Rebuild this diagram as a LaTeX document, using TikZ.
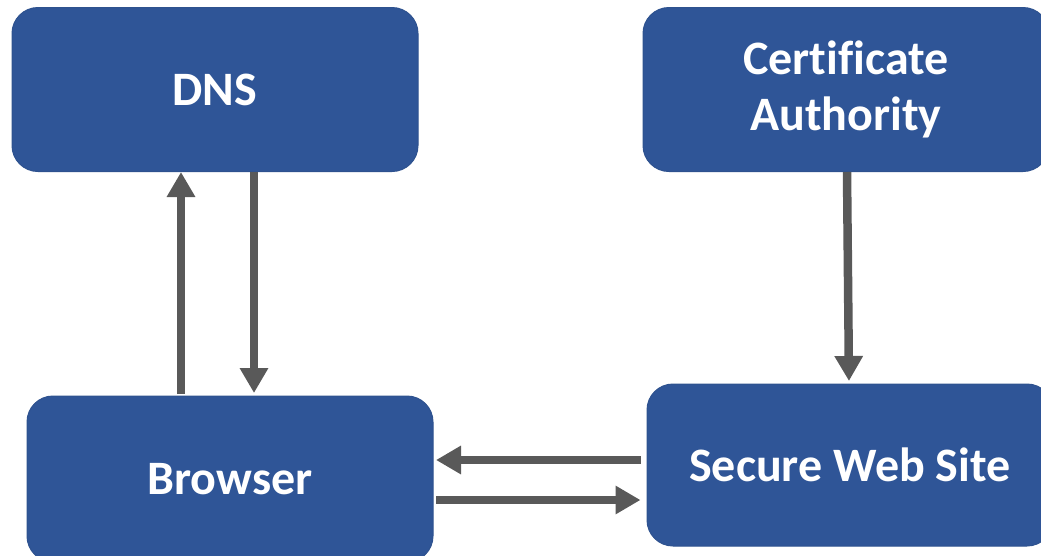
\documentclass[tikz,border=0pt]{standalone}
\usepackage{fontspec}
\setmainfont[Ligatures=CommonOff]{Carlito}
\usetikzlibrary{arrows.meta}
\definecolor{boxblue}{HTML}{2F5597}
\definecolor{boxedge}{HTML}{2E528F}
\definecolor{arrowgray}{HTML}{595959}
\begin{document}
\begin{tikzpicture}[x=1pt,y=-1pt,
  block/.style={fill=boxblue, draw=boxedge, line width=1pt, rounded corners=26pt,
    text=white, font=\bfseries\fontsize{48}{56}\selectfont, align=center,
    inner sep=0pt, minimum width=406pt},
  flow/.style={draw=arrowgray, line width=8.5pt,
    -{Triangle[width=27pt,length=25pt]}}]
\useasboundingbox (0,0) rectangle (1041,555);
\clip (0,0) rectangle (1041,555);

% boxes
\node[block, minimum height=164pt] (dns) at (215,89.5) {DNS};
\node[block, minimum height=164pt] (ca) at (846,89.5) {Certificate\\Authority};
\node[block, minimum height=166pt] (browser) at (230,479) {Browser};
\node[block, minimum height=162pt] (site) at (850,465) {Secure Web Site};

% DNS lookup and reply
\draw[flow, shorten <=1.5pt] ([xshift=-49pt]browser.north) -- ([xshift=-34pt]dns.south);
\draw[flow, shorten >=2.5pt] ([xshift=39pt]dns.south) -- ([xshift=24pt]browser.north);

% certificate issued to the site
\draw[flow, shorten >=2.5pt] ([xshift=1pt]ca.south) -- ([xshift=-1pt]site.north);

% browser <-> site exchange
\draw[flow, shorten <=6pt, shorten >=2.5pt] ([yshift=5pt]site.west) -- ([yshift=19pt]browser.east);
\draw[flow, shorten <=2.5pt, shorten >=6pt] ([yshift=-21pt]browser.east) -- ([yshift=-35pt]site.west);
\end{tikzpicture}
\end{document}
